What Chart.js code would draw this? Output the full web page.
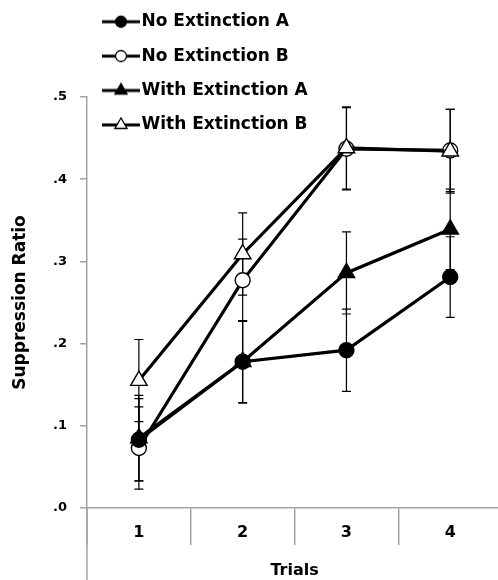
<!DOCTYPE html>
<html>
<head>
<meta charset="utf-8">
<script src="https://cdn.jsdelivr.net/npm/chart.js@4/dist/chart.umd.min.js"></script>
<style>
  html, body { margin: 0; padding: 0; background: #fff; overflow: hidden; }
  #wrap { width: 498px; height: 580px; overflow: hidden; position: relative; }
  canvas { display: block; }
</style>
</head>
<body>
<div id="wrap"><canvas id="c" width="513" height="580"></canvas></div>
<script>
// ---- data ----
const categories = ['1', '2', '3', '4'];
const seriesNames = ['No Extinction A', 'No Extinction B', 'With Extinction A', 'With Extinction B'];
const noExtA = [0.083, 0.178, 0.192, 0.281];
const noExtB = [0.073, 0.277, 0.437, 0.435];
const withExtA = [0.085, 0.178, 0.286, 0.339];
const withExtB = [0.155, 0.309, 0.438, 0.434];
const noExtAErr = [0.050, 0.050, 0.050, 0.049];
const noExtBErr = [0.050, 0.050, 0.050, 0.050];
const withExtAErr = [0.052, 0.050, 0.050, 0.049];
const withExtBErr = [0.050, 0.050, 0.050, 0.051];
const yTickLabels = ['.0', '.1', '.2', '.3', '.4', '.5'];
const xTitle = 'Trials';
const yTitle = 'Suppression Ratio';

const errorLists = [noExtAErr, noExtBErr, withExtAErr, withExtBErr];
const FONT = 'DejaVu Sans';
const AXIS = '#a3a3a3';

// legend icons: line with marker
function makeIcon(shape, filled) {
  const cv = document.createElement('canvas');
  cv.width = 38; cv.height = 18;
  const g = cv.getContext('2d');
  g.strokeStyle = '#000';
  g.lineWidth = 3;
  g.beginPath(); g.moveTo(0, 9); g.lineTo(38, 9); g.stroke();
  g.lineWidth = 1.3;
  g.fillStyle = filled ? '#000' : '#fff';
  g.beginPath();
  if (shape === 'circle') {
    g.arc(19, 9, 5.5, 0, Math.PI * 2);
  } else {
    const r = 7;
    g.moveTo(19, 9 - r);
    g.lineTo(19 + r * Math.sin(Math.PI * 2 / 3), 9 - r * Math.cos(Math.PI * 2 / 3));
    g.lineTo(19 - r * Math.sin(Math.PI * 2 / 3), 9 - r * Math.cos(Math.PI * 2 / 3));
    g.closePath();
  }
  g.fill(); g.stroke();
  return cv;
}
const legendIcons = [
  makeIcon('circle', true), makeIcon('circle', false),
  makeIcon('triangle', true), makeIcon('triangle', false)
];

// error bars, drawn through the chart's scales
const errorBarPlugin = {
  id: 'errorBars',
  beforeDatasetsDraw(chart) {
    const ctx = chart.ctx, xs = chart.scales.x, ys = chart.scales.y;
    ctx.save();
    ctx.strokeStyle = '#000';
    ctx.lineWidth = 1.2;
    chart.data.datasets.forEach((ds, i) => {
      const errs = errorLists[i];
      ds.data.forEach((v, j) => {
        const x = xs.getPixelForValue(j);
        const yt = ys.getPixelForValue(v + errs[j]);
        const yb = ys.getPixelForValue(v - errs[j]);
        ctx.beginPath();
        ctx.moveTo(x, yt); ctx.lineTo(x, yb);
        ctx.moveTo(x - 4.5, yt); ctx.lineTo(x + 4.5, yt);
        ctx.moveTo(x - 4.5, yb); ctx.lineTo(x + 4.5, yb);
        ctx.stroke();
      });
    });
    ctx.restore();
  }
};

// place legend at the top-left, overlapping the plot as in the reference
const legendPlacePlugin = {
  id: 'legendPlace',
  afterLayout(chart) {
    const lg = chart.legend;
    if (!lg) return;
    lg.left = 91.6;
    lg.top = -4.2;
    lg.right = chart.chartArea.right;
    lg.bottom = chart.chartArea.bottom;
  }
};

// y axis line continues below the x axis
const axisExtendPlugin = {
  id: 'axisExtend',
  afterDraw(chart) {
    const ctx = chart.ctx, a = chart.chartArea;
    ctx.save();
    ctx.strokeStyle = AXIS;
    ctx.lineWidth = 1.5;
    ctx.beginPath();
    ctx.moveTo(a.left, a.bottom);
    ctx.lineTo(a.left, chart.height);
    ctx.stroke();
    ctx.restore();
  }
};

function ds(label, data, style, filled, order) {
  return {
    label, data, order,
    borderColor: '#000', borderWidth: 3.2, tension: 0, fill: false,
    pointStyle: style,
    pointRadius: style === 'circle' ? 7.5 : 9.5,
    pointHoverRadius: style === 'circle' ? 7.5 : 9.5,
    pointBackgroundColor: filled ? '#000' : '#fff',
    pointBorderColor: '#000',
    pointBorderWidth: 1.4
  };
}

new Chart(document.getElementById('c'), {
  type: 'line',
  data: {
    labels: categories,
    datasets: [
      ds(seriesNames[0], noExtA, 'circle', true, 2),
      ds(seriesNames[1], noExtB, 'circle', false, 3),
      ds(seriesNames[2], withExtA, 'triangle', true, 1),
      ds(seriesNames[3], withExtB, 'triangle', false, 0)
    ]
  },
  options: {
    responsive: false,
    animation: false,
    events: [],
    layout: { padding: { top: 97, left: 0, right: 0, bottom: 0 } },
    plugins: {
      tooltip: { enabled: false },
      legend: {
        position: 'chartArea',
        align: 'start',
        labels: {
          usePointStyle: true,
          pointStyleWidth: 24,
          padding: 17.4,
          color: '#000',
          font: { family: FONT, size: 17, weight: 'bold' },
          generateLabels: (chart) => chart.data.datasets.map((d, i) => ({
            text: d.label,
            pointStyle: legendIcons[i],
            fontColor: '#000',
            fillStyle: '#000',
            strokeStyle: '#000',
            lineWidth: 0,
            hidden: false,
            datasetIndex: i
          }))
        }
      }
    },
    scales: {
      x: {
        type: 'category',
        offset: true,
        border: { color: AXIS, width: 1.5 },
        grid: { offset: true, drawOnChartArea: false, drawTicks: true, tickLength: 37, color: AXIS, lineWidth: 1.5 },
        ticks: { color: '#000', padding: -22, font: { family: FONT, size: 16, weight: 'bold' } },
        title: { display: true, text: xTitle, color: '#000', padding: { top: 0, bottom: 0 }, font: { family: FONT, size: 16, weight: 'bold' } },
        afterFit(scale) { scale.height = 72; }
      },
      y: {
        min: 0, max: 0.5,
        border: { color: AXIS, width: 1.5 },
        grid: { drawOnChartArea: false, drawTicks: true, tickLength: 7, color: AXIS, lineWidth: 1.5 },
        ticks: {
          stepSize: 0.1,
          color: '#000',
          padding: 13,
          font: { family: FONT, size: 13, weight: 'bold' },
          callback: (v, i) => yTickLabels[i]
        },
        title: { display: true, text: yTitle, color: '#000', padding: { top: 10, bottom: 0 }, font: { family: FONT, size: 17, weight: 'bold' } },
        afterFit(scale) { scale.width = 87; }
      }
    }
  },
  plugins: [errorBarPlugin, legendPlacePlugin, axisExtendPlugin]
});
</script>
</body>
</html>
